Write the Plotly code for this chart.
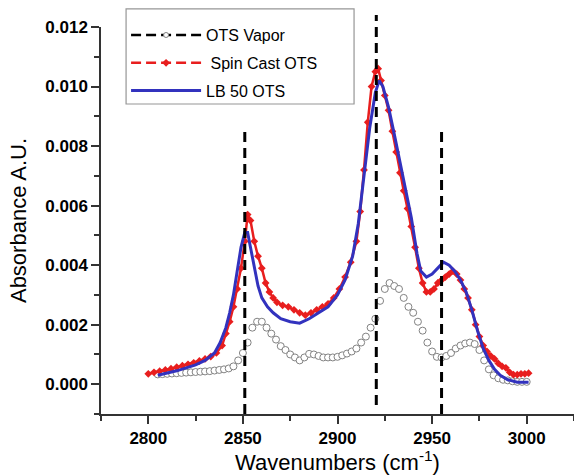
import plotly.graph_objects as go

# ---------------- data ----------------
vapor_x = [2805, 2807.5, 2810, 2812.5, 2815, 2817.5, 2820, 2822.5, 2825, 2827.5,
           2830, 2832.5, 2835, 2837.5, 2840, 2842.5, 2845, 2847.5, 2850, 2852.5,
           2855, 2857.5, 2860, 2862.5, 2865, 2867.5, 2870, 2872.5, 2875, 2877.5,
           2880, 2882.5, 2885, 2887.5, 2890, 2892.5, 2895, 2897.5, 2900, 2902.5,
           2905, 2907.5, 2910, 2912.5, 2915, 2917.5, 2920, 2922.5, 2925, 2927.5,
           2930, 2932.5, 2935, 2937.5, 2940, 2942.5, 2945, 2947.5, 2950, 2952.5,
           2955, 2957.5, 2960, 2962.5, 2965, 2967.5, 2970, 2972.5, 2975, 2977.5,
           2980, 2982.5, 2985, 2987.5, 2990, 2992.5, 2995, 2997.5, 3000]
vapor_y = [0.00033, 0.00034, 0.00035, 0.00036, 0.00037, 0.00038, 0.00039, 0.00040, 0.00041, 0.00042,
           0.00043, 0.00044, 0.00046, 0.00048, 0.00050, 0.00053, 0.00060, 0.00080, 0.00105, 0.00140,
           0.00190, 0.00210, 0.00210, 0.00190, 0.00170, 0.00150, 0.00128, 0.00115, 0.00100, 0.00090,
           0.00080, 0.00090, 0.00102, 0.00100, 0.00095, 0.00090, 0.00090, 0.00090, 0.00092, 0.00097,
           0.00103, 0.00110, 0.00120, 0.00140, 0.00160, 0.00190, 0.00220, 0.00280, 0.00320, 0.00340,
           0.00330, 0.00320, 0.00290, 0.00260, 0.00240, 0.00210, 0.00180, 0.00140, 0.00110, 0.00092,
           0.00090, 0.00095, 0.00105, 0.00120, 0.00130, 0.00137, 0.00140, 0.00135, 0.00115, 0.00080,
           0.00050, 0.00030, 0.00020, 0.00015, 0.00013, 0.00010, 0.00008, 0.00008, 0.00008]

spin_x = [2800, 2803, 2806, 2809, 2812, 2815, 2818, 2821, 2824, 2827, 2830, 2833, 2836, 2839,
          2841, 2843, 2845, 2847, 2849, 2851, 2852.5, 2854, 2856, 2858, 2860, 2862, 2864, 2866,
          2868, 2871, 2874, 2877, 2880, 2883, 2886, 2889, 2892, 2895, 2898, 2901, 2904, 2907,
          2910, 2912, 2914, 2916, 2918, 2920, 2921.5, 2923, 2925, 2927, 2929, 2931, 2933, 2935,
          2937, 2939, 2941, 2943, 2945, 2947, 2949, 2951, 2953, 2955, 2957, 2959, 2961, 2963,
          2965, 2967, 2969, 2971, 2973, 2975, 2977, 2979, 2981, 2983, 2985, 2987, 2989, 2991,
          2993, 2995, 2997, 2999, 3001]
spin_y = [0.00035, 0.00040, 0.00044, 0.00048, 0.00052, 0.00057, 0.00062, 0.00067, 0.00072, 0.00078,
          0.00085, 0.00093, 0.00105, 0.00130, 0.00170, 0.00210, 0.00260, 0.00320, 0.00390, 0.00480,
          0.00570, 0.00550, 0.00480, 0.00430, 0.00390, 0.00340, 0.00310, 0.00290, 0.00275, 0.00265,
          0.00260, 0.00250, 0.00240, 0.00232, 0.00240, 0.00250, 0.00260, 0.00270, 0.00290, 0.00320,
          0.00360, 0.00410, 0.00480, 0.00580, 0.00720, 0.00880, 0.01000, 0.01050, 0.01060, 0.01020,
          0.00970, 0.00920, 0.00850, 0.00780, 0.00710, 0.00650, 0.00590, 0.00530, 0.00460, 0.00390,
          0.00340, 0.00310, 0.00310, 0.00320, 0.00340, 0.00350, 0.00360, 0.00370, 0.00380, 0.00370,
          0.00350, 0.00320, 0.00290, 0.00250, 0.00200, 0.00160, 0.00130, 0.00110, 0.00095, 0.00085,
          0.00070, 0.00060, 0.00055, 0.00040, 0.00032, 0.00032, 0.00035, 0.00035, 0.00037]

lb_x = [2805, 2810, 2815, 2820, 2825, 2830, 2835, 2838, 2841, 2843, 2845, 2847, 2849, 2851,
        2852.5, 2854, 2856, 2858, 2860, 2863, 2866, 2870, 2875, 2880, 2885, 2890, 2895, 2900,
        2904, 2908, 2911, 2914, 2917, 2920, 2922, 2924, 2927, 2930, 2933, 2936, 2939, 2942,
        2944, 2947, 2950, 2953, 2956, 2959, 2962, 2965, 2968, 2971, 2974, 2977, 2980, 2983,
        2986, 2990, 2995, 3001]
lb_y = [0.00030, 0.00037, 0.00045, 0.00055, 0.00065, 0.00080, 0.00105, 0.00140, 0.00190, 0.00240,
        0.00300, 0.00380, 0.00460, 0.00510, 0.00510, 0.00460, 0.00390, 0.00330, 0.00290, 0.00260,
        0.00240, 0.00220, 0.00210, 0.00205, 0.00220, 0.00240, 0.00260, 0.00300, 0.00350, 0.00430,
        0.00540, 0.00700, 0.00860, 0.00980, 0.01020, 0.01000, 0.00930, 0.00840, 0.00750, 0.00660,
        0.00560, 0.00440, 0.00380, 0.00360, 0.00370, 0.00390, 0.00410, 0.00400, 0.00380, 0.00350,
        0.00310, 0.00250, 0.00180, 0.00120, 0.00080, 0.00050, 0.00030, 0.00015, 0.00007, 0.00007]

peak_x = [2851, 2920.5, 2955]
peak_top = [0.0085, 0.0124, 0.0085]
peak_bottom = [-0.001, -0.0007, -0.001]

series_names = ["OTS Vapor", " Spin Cast OTS", "LB 50 OTS"]

x_range = [2775, 3025]
y_range = [-0.001, 0.012]

RED = "rgb(232,30,30)"
BLUE = "rgb(50,50,190)"

fig = go.Figure()

# data traces
fig.add_trace(go.Scatter(x=vapor_x, y=vapor_y, mode="markers", showlegend=False,
                         marker=dict(symbol="circle", size=7, color="white",
                                     line=dict(color="rgb(130,130,130)", width=1))))
fig.add_trace(go.Scatter(x=spin_x, y=spin_y, mode="lines+markers", showlegend=False,
                         line=dict(color=RED, width=2.5),
                         marker=dict(symbol="diamond", size=6, color=RED)))
fig.add_trace(go.Scatter(x=lb_x, y=lb_y, mode="lines", showlegend=False,
                         line=dict(color=BLUE, width=3)))

# legend entries
fig.add_trace(go.Scatter(x=[None], y=[None], mode="lines+markers", name=series_names[0],
                         legendgroup="a",
                         line=dict(color="black", width=2.5, dash="10px,5px"),
                         marker=dict(symbol="circle", size=5, color="white",
                                     line=dict(color="rgb(130,130,130)", width=1))))
fig.add_trace(go.Scatter(x=[None], y=[None], mode="lines+markers", name=series_names[1],
                         legendgroup="b",
                         line=dict(color=RED, width=2.5, dash="10px,5px"),
                         marker=dict(symbol="diamond", size=6, color=RED)))
fig.add_trace(go.Scatter(x=[None], y=[None], mode="lines", name=series_names[2],
                         legendgroup="c",
                         line=dict(color=BLUE, width=3)))

def to_paper(v):
    return (v - y_range[0]) / (y_range[1] - y_range[0])

for px, top, bot in zip(peak_x, peak_top, peak_bottom):
    fig.add_shape(type="line", xref="x", yref="paper", x0=px, x1=px,
                  y0=to_paper(bot), y1=to_paper(top),
                  line=dict(color="black", width=3, dash="10px,6px"), layer="above")

# legend frame
fig.add_shape(type="rect", xref="paper", yref="paper",
              x0=0.053, x1=0.535, y0=0.801, y1=1.047,
              line=dict(color="rgb(150,150,150)", width=1.2),
              fillcolor="white", layer="above")

fig.update_layout(
    width=574, height=475,
    margin=dict(l=101, r=0, t=27, b=61),
    plot_bgcolor="white", paper_bgcolor="white",
    font=dict(family="Arial, Liberation Sans, sans-serif", color="black"),
    showlegend=True,
    legend=dict(x=0.053, y=1.023, xanchor="left", yanchor="top",
                bgcolor="rgba(0,0,0,0)", borderwidth=0,
                font=dict(size=16, family="Arial, Liberation Sans, sans-serif"),
                itemwidth=70, tracegroupgap=4),
    xaxis=dict(range=x_range, tickmode="linear", tick0=2800, dtick=50,
               ticks="outside", ticklen=8, tickwidth=1.5, tickcolor="#333",
               showline=True, linecolor="#333", linewidth=1.5,
               showgrid=False, zeroline=False,
               minor=dict(dtick=25, tick0=2800, ticks="outside", ticklen=5, tickcolor="#333", tickwidth=1.5),
               tickfont=dict(size=17, family="Arial, Liberation Sans", weight="bold"),
               title=dict(text="Wavenumbers (cm<sup>-1</sup>)", font=dict(size=22), standoff=1)),
    yaxis=dict(range=y_range, tickmode="linear", tick0=0, dtick=0.002, tickformat=".3f",
               ticks="outside", ticklen=8, tickwidth=1.5, tickcolor="#333",
               showline=True, linecolor="#333", linewidth=1.5,
               showgrid=False, zeroline=False,
               minor=dict(dtick=0.001, tick0=0, ticks="outside", ticklen=5, tickcolor="#333", tickwidth=1.5),
               tickfont=dict(size=17, family="Arial, Liberation Sans", weight="bold"),
               title=dict(text="Absorbance A.U.", font=dict(size=22), standoff=13)),
)

fig.write_html("out.html")
